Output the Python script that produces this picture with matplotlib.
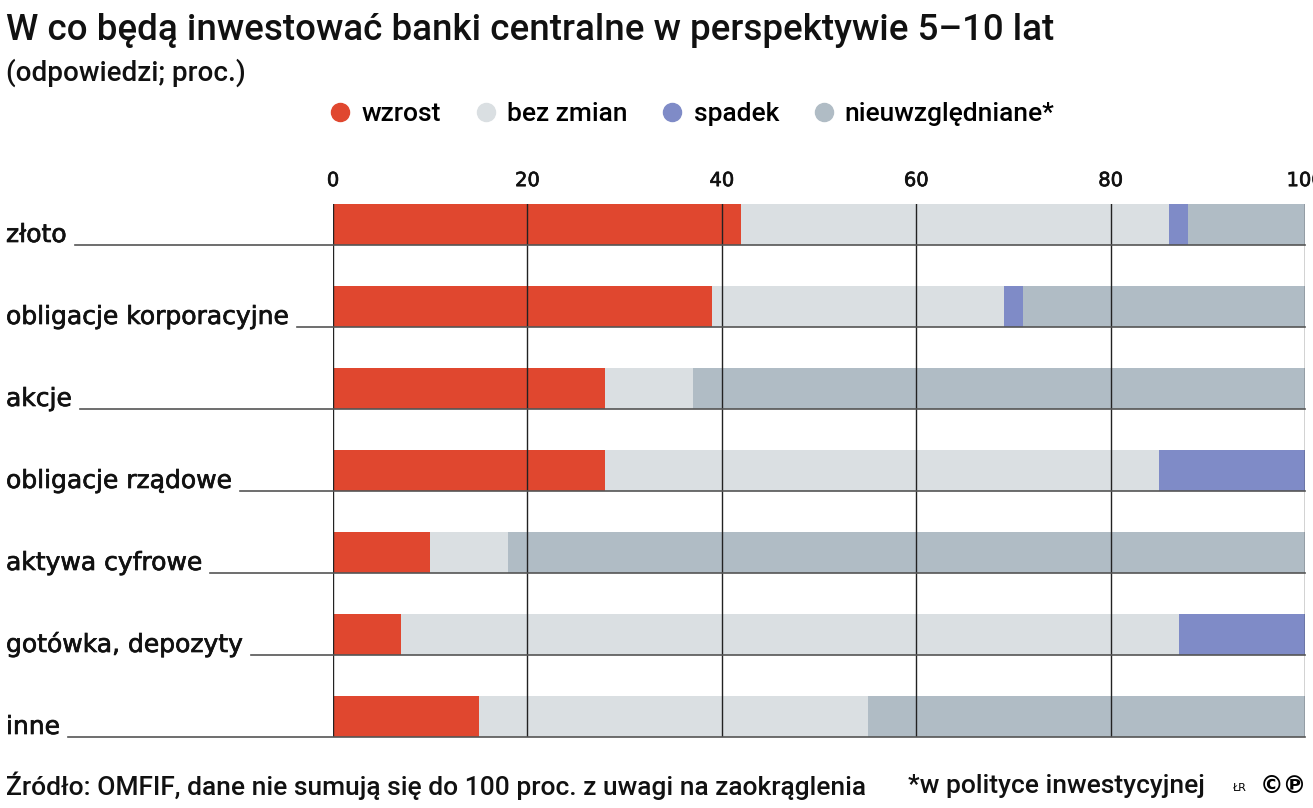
import numpy as np
import matplotlib.pyplot as plt
import matplotlib.patheffects as pe
from matplotlib.lines import Line2D

categories = ['złoto', 'obligacje korporacyjne', 'akcje', 'obligacje rządowe',
              'aktywa cyfrowe', 'gotówka, depozyty', 'inne']
wzrost = [42, 39, 28, 28, 10, 7, 15]
bez_zmian = [44, 30, 9, 57, 8, 80, 40]
spadek = [2, 2, 0, 15, 0, 13, 0]
nieuwzgl = [12, 29, 63, 0, 82, 0, 45]

series = [wzrost, bez_zmian, spadek, nieuwzgl]
names = ['wzrost', 'bez zmian', 'spadek', 'nieuwzględniane*']
colors = ['#e0472f', '#dadfe2', '#7f8bc7', '#b0bcc5']
ticks = [0, 20, 40, 60, 80, 100]

narrow = ['Roboto', 'DejaVu Sans']
wide = ['DejaVu Sans']
ink = '#111111'
heavy = [pe.withStroke(linewidth=0.5, foreground=ink)]

W, H = 1313, 808
fig = plt.figure(figsize=(W / 100, H / 100), dpi=100)
ax = fig.add_axes([333 / W, 1 - 737 / H, (1305 - 333) / W, (737 - 204) / H])

y = np.arange(len(categories))
left = np.zeros(len(categories))
for vals, c in zip(series, colors):
    ax.barh(y, vals, left=left, height=0.5, color=c, zorder=1)
    left += np.array(vals)

ax.set_xlim(0, 100)
ax.set_ylim(len(categories) - 0.75, -0.25)
for s in ax.spines.values():
    s.set_visible(False)
for t in ticks:
    ax.axvline(t, color='#222222', lw=1.0, zorder=3)
ax.set_yticks([])
ax.xaxis.tick_top()
ax.set_xticks(ticks)
ax.set_xticklabels([str(t) for t in ticks], fontfamily=wide, fontsize=14, color=ink,
                   path_effects=heavy)
ax.tick_params(axis='x', length=0, pad=10)

# category labels with leader lines along bar bottoms
fig.canvas.draw()
r = fig.canvas.get_renderer()
for i, cat in enumerate(categories):
    ypx = 1 - (204 + 82 * i + 41) / H
    txt = fig.text(6 / W, ypx + 3 / H, cat, fontfamily=wide, fontsize=18,
                   ha='left', va='baseline', color=ink, path_effects=heavy)
    bb = txt.get_window_extent(renderer=r)
    x0 = (bb.x1 + 8) / W
    fig.add_artist(Line2D([x0, 1305 / W], [ypx, ypx], color='#555555', lw=1.2, zorder=4))

fig.text(6 / W, 1 - 30 / H, 'W co będą inwestować banki centralne w perspektywie 5–10 lat',
         fontfamily=narrow, fontsize=26.5, fontweight='medium', va='center', ha='left',
         color=ink)
fig.text(6 / W, 1 - 73 / H, '(odpowiedzi; proc.)', fontfamily=narrow, fontsize=20,
         fontweight='medium', va='center', ha='left', color=ink)

handles = [Line2D([], [], marker='o', ls='', markersize=13, color=c) for c in colors]
fig.legend(handles, names, loc='center', bbox_to_anchor=(691 / W, 1 - 114 / H), ncol=4,
           frameon=False, prop={'family': narrow, 'size': 19, 'weight': 'medium'},
           handletextpad=0.3, columnspacing=1.2, handlelength=1.0)

fig.text(6 / W, 1 - 786 / H,
         'Źródło: OMFIF, dane nie sumują się do 100 proc. z uwagi na zaokrąglenia',
         fontfamily=narrow, fontsize=19, fontweight='medium', va='center', ha='left',
         color=ink)
fig.text(1205 / W, 1 - 786 / H, '*w polityce inwestycyjnej', fontfamily=narrow,
         fontsize=19, fontweight='medium', va='center', ha='right', color=ink)
fig.text(1232 / W, 1 - 788 / H, 'ŁR', fontfamily=wide, fontsize=8, va='center', ha='left')
fig.text(1260 / W, 1 - 786 / H, '©℗', fontfamily=wide, fontsize=17, va='center',
         ha='left', fontweight='bold')

fig.savefig('out.png', dpi=100)
